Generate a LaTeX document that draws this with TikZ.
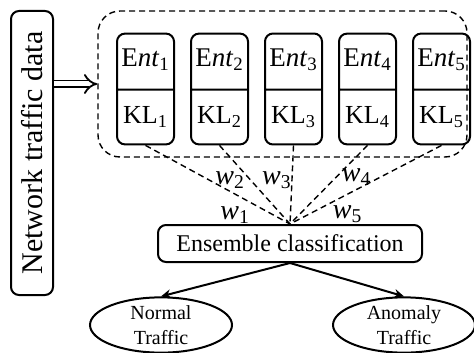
\documentclass[tikz,border=0pt]{standalone}
\usepackage{fontspec}
\setmainfont{Liberation Serif}
\usepackage{tikz}
\usetikzlibrary{arrows.meta,positioning,shapes.geometric,shapes.multipart}
\newcommand\entlab[1]{{\fontsize{13.5}{14}\selectfont E\textit{nt}\textsubscript{#1}}\nodepart{two}KL\textsubscript{#1}}

\begin{document}
\begin{tikzpicture}[x=0.5pt, y=-0.5pt,
  inbox/.style={draw, rounded corners=4pt, line width=1pt, rotate=90,
                minimum width=142pt, minimum height=21pt, inner sep=0pt,
                font=\fontsize{15}{17}\selectfont},
  entbox/.style={draw, rectangle split, rectangle split parts=2, rounded corners=4pt,
                 line width=1pt, minimum width=28.5pt, inner xsep=0.5pt, inner ysep=8pt,
                 text height=8pt, text depth=3pt, font=\fontsize{13}{14}\selectfont},
  grpbox/.style={draw, dashed, dash pattern=on 3pt off 2pt, rounded corners=11pt,
                 line width=0.7pt, minimum width=184.5pt, minimum height=73pt},
  ensbox/.style={draw, rounded corners=4pt, line width=1pt, minimum width=132pt,
                 minimum height=18.5pt, inner sep=0pt, font=\fontsize{12}{14}\selectfont},
  outell/.style={draw, ellipse, line width=1pt, minimum width=71pt, minimum height=27pt,
                 inner sep=0pt, align=center, font=\fontsize{10}{12.5}\selectfont},
  wline/.style={dashed, dash pattern=on 3pt off 2pt, line width=0.7pt},
  wlab/.style={font=\fontsize{14}{15}\selectfont},
  arr/.style={-{Stealth[length=5pt,width=4.5pt]}, line width=1pt}
]
  \useasboundingbox (0,0) rectangle (474,352);

  \node[inbox] (net) at (32,153) {Network traffic data};
  \node[grpbox] (grp) at (282.5,84) {};

  \node[entbox] (ent1) at (145.5,89) {\entlab{1}};
  \node[entbox, right=7.5pt of ent1] (ent2) {\entlab{2}};
  \node[entbox, right=7.5pt of ent2] (ent3) {\entlab{3}};
  \node[entbox, right=7.5pt of ent3] (ent4) {\entlab{4}};
  \node[entbox, right=7.5pt of ent4] (ent5) {\entlab{5}};

  \node[ensbox] (ens) at (290,243.5) {Ensemble classification};
  \node[outell] (normal) at (161,325) {Normal\\Traffic};
  \node[outell] (anomaly) at (404,325) {Anomaly\\Traffic};

  % input
  \draw[double, double distance=2.5pt, line width=0.9pt, -{Implies}] (net.south |- grp.west) -- (grp.west);

  % weights
  \draw[wline] (ent1.south) -- (ens.north) node[wlab, pos=0.62, yshift=-10.5pt] {\textit{w}\textsubscript{1}};
  \draw[wline] (ent2.south) -- (ens.north) node[wlab, pos=0.15, yshift=-11.5pt] {\textit{w}\textsubscript{2}};
  \draw[wline] (ent3.south) -- (ens.north) node[wlab, pos=0.44, xshift=-7.5pt] {\textit{w}\textsubscript{3}};
  \draw[wline] (ent4.south) -- (ens.north) node[wlab, pos=0.14, yshift=-10.5pt] {\textit{w}\textsubscript{4}};
  \draw[wline] (ent5.south) -- (ens.north) node[wlab, pos=0.62, yshift=-10pt] {\textit{w}\textsubscript{5}};

  % output
  \draw[arr] (ens.south) -- (normal.north);
  \draw[arr] (ens.south) -- (anomaly.north);
\end{tikzpicture}
\end{document}
